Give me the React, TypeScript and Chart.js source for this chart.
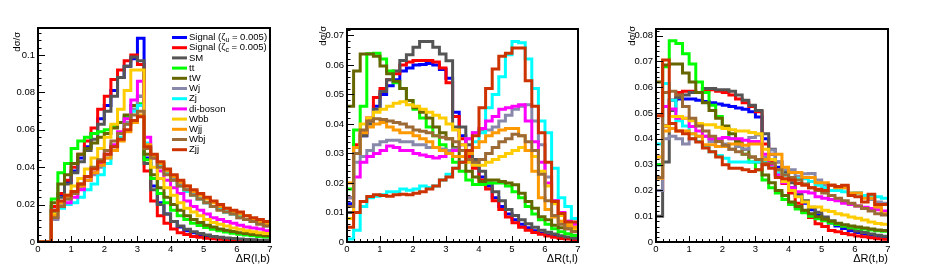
import React, { useEffect, useRef } from "react";
import { Chart, registerables } from "chart.js";

Chart.register(...registerables);

const W = 926;
const H = 273;
const FONT = "'Liberation Sans', Arial, Helvetica, sans-serif";

const BIN_EDGES = [
  0, 0.2, 0.4, 0.6, 0.8, 1.0, 1.2, 1.4, 1.6, 1.8, 2.0, 2.2, 2.4, 2.6, 2.8, 3.0, 3.2, 3.4,
  3.6, 3.8, 4.0, 4.2, 4.4, 4.6, 4.8, 5.0, 5.2, 5.4, 5.6, 5.8, 6.0, 6.2, 6.4, 6.6, 6.8, 7.0,
];
const X_TICKS = [0, 1, 2, 3, 4, 5, 6, 7];
const P1_Y_TICKS = [0, 0.02, 0.04, 0.06, 0.08, 0.1];
const P2_Y_TICKS = [0, 0.01, 0.02, 0.03, 0.04, 0.05, 0.06, 0.07];
const P3_Y_TICKS = [0, 0.01, 0.02, 0.03, 0.04, 0.05, 0.06, 0.07, 0.08];

const SERIES_LABELS = [
  "Signal (ζ_{u} = 0.005)",
  "Signal (ζ_{c} = 0.005)",
  "SM",
  "tt",
  "tW",
  "Wj",
  "Zj",
  "di-boson",
  "Wbb",
  "Wjj",
  "Wbj",
  "Zjj",
];
const SERIES_COLORS = [
  "#0000ff",
  "#ff0000",
  "#555555",
  "#00ff00",
  "#666600",
  "#8888aa",
  "#00ffff",
  "#ff00ff",
  "#ffcc00",
  "#ff9900",
  "#9c6b35",
  "#cc3300",
];

// ---------- Panel 1 : ΔR(l,b) ----------
const P1_SIG_U = [0, 0, 0.017, 0.025, 0.032, 0.038, 0.045, 0.051, 0.058, 0.066, 0.073, 0.081, 0.088, 0.094, 0.098, 0.109, 0.045, 0.030, 0.021, 0.015, 0.011, 0.008, 0.006, 0.005, 0.004, 0.0033, 0.0027, 0.0022, 0.0018, 0.0015, 0.0012, 0.001, 0.0009, 0.0008, 0.0007];
const P1_SIG_C = [0, 0, 0.019, 0.026, 0.033, 0.040, 0.047, 0.054, 0.061, 0.071, 0.078, 0.087, 0.092, 0.097, 0.100, 0.095, 0.038, 0.022, 0.014, 0.010, 0.007, 0.005, 0.004, 0.003, 0.0025, 0.002, 0.0017, 0.0015, 0.0012, 0.001, 0.0009, 0.0008, 0.0007, 0.0006, 0.0005];
const P1_SM = [0, 0, 0.016, 0.024, 0.031, 0.037, 0.043, 0.049, 0.055, 0.063, 0.070, 0.078, 0.088, 0.094, 0.099, 0.097, 0.042, 0.028, 0.020, 0.015, 0.011, 0.0085, 0.0068, 0.0055, 0.0045, 0.0037, 0.003, 0.0026, 0.0022, 0.0019, 0.0016, 0.0014, 0.0012, 0.001, 0.0009];
const P1_TT = [0, 0, 0.023, 0.037, 0.042, 0.050, 0.054, 0.056, 0.058, 0.059, 0.060, 0.062, 0.064, 0.067, 0.071, 0.074, 0.044, 0.034, 0.026, 0.021, 0.017, 0.014, 0.012, 0.010, 0.0088, 0.0077, 0.0068, 0.006, 0.0053, 0.0047, 0.0042, 0.0037, 0.0033, 0.003, 0.0027];
const P1_TW = [0, 0, 0.021, 0.031, 0.036, 0.042, 0.047, 0.050, 0.053, 0.056, 0.058, 0.061, 0.064, 0.068, 0.073, 0.078, 0.047, 0.036, 0.029, 0.024, 0.020, 0.017, 0.014, 0.012, 0.0105, 0.009, 0.008, 0.007, 0.0063, 0.0056, 0.005, 0.0045, 0.004, 0.0037, 0.0034];
const P1_WJ = [0, 0, 0.012, 0.020, 0.023, 0.026, 0.029, 0.033, 0.036, 0.040, 0.045, 0.051, 0.058, 0.064, 0.071, 0.078, 0.051, 0.045, 0.041, 0.037, 0.034, 0.031, 0.028, 0.026, 0.023, 0.021, 0.019, 0.018, 0.016, 0.015, 0.013, 0.012, 0.011, 0.010, 0.0085];
const P1_ZJ = [0, 0, 0.013, 0.018, 0.020, 0.021, 0.024, 0.028, 0.031, 0.036, 0.042, 0.049, 0.056, 0.063, 0.070, 0.073, 0.053, 0.046, 0.041, 0.037, 0.033, 0.030, 0.027, 0.025, 0.023, 0.021, 0.019, 0.018, 0.016, 0.015, 0.014, 0.012, 0.011, 0.010, 0.009];
const P1_DIBOSON = [0, 0, 0.013, 0.019, 0.021, 0.024, 0.028, 0.033, 0.037, 0.042, 0.047, 0.052, 0.059, 0.066, 0.076, 0.086, 0.056, 0.045, 0.038, 0.033, 0.029, 0.026, 0.022, 0.019, 0.017, 0.015, 0.013, 0.012, 0.011, 0.010, 0.009, 0.008, 0.0075, 0.007, 0.006];
const P1_WBB = [0, 0, 0.015, 0.021, 0.025, 0.030, 0.034, 0.039, 0.045, 0.050, 0.056, 0.063, 0.071, 0.081, 0.092, 0.092, 0.050, 0.040, 0.034, 0.029, 0.025, 0.021, 0.018, 0.016, 0.014, 0.012, 0.0105, 0.0095, 0.0085, 0.0075, 0.0068, 0.006, 0.0055, 0.005, 0.0045];
const P1_WJJ = [0, 0, 0.014, 0.021, 0.024, 0.027, 0.030, 0.033, 0.037, 0.041, 0.045, 0.049, 0.054, 0.059, 0.064, 0.068, 0.052, 0.046, 0.042, 0.038, 0.035, 0.032, 0.030, 0.027, 0.025, 0.023, 0.021, 0.019, 0.018, 0.016, 0.015, 0.014, 0.012, 0.011, 0.0095];
const P1_WBJ = [0, 0, 0.013, 0.019, 0.023, 0.026, 0.031, 0.035, 0.040, 0.044, 0.049, 0.054, 0.058, 0.063, 0.068, 0.070, 0.050, 0.045, 0.040, 0.036, 0.033, 0.030, 0.028, 0.025, 0.023, 0.021, 0.019, 0.017, 0.016, 0.015, 0.013, 0.012, 0.011, 0.0095, 0.0085];
const P1_ZJJ = [0, 0, 0.017, 0.022, 0.025, 0.027, 0.031, 0.035, 0.039, 0.043, 0.047, 0.051, 0.055, 0.060, 0.065, 0.067, 0.051, 0.047, 0.043, 0.039, 0.036, 0.033, 0.030, 0.028, 0.026, 0.024, 0.022, 0.020, 0.018, 0.017, 0.016, 0.014, 0.013, 0.012, 0.011];

// ---------- Panel 2 : ΔR(t,l) ----------
const P2_SIG_U = [0.013, 0.030, 0.036, 0.041, 0.046, 0.050, 0.053, 0.055, 0.058, 0.059, 0.060, 0.0602, 0.0605, 0.060, 0.0585, 0.0555, 0.044, 0.036, 0.030, 0.026, 0.022, 0.019, 0.015, 0.012, 0.0095, 0.0075, 0.006, 0.0048, 0.0038, 0.003, 0.0024, 0.0019, 0.0015, 0.0012, 0.001];
const P2_SIG_C = [0.015, 0.033, 0.037, 0.042, 0.049, 0.052, 0.055, 0.057, 0.060, 0.061, 0.0615, 0.0615, 0.0615, 0.061, 0.059, 0.054, 0.0425, 0.035, 0.029, 0.025, 0.021, 0.018, 0.014, 0.011, 0.0085, 0.0065, 0.005, 0.004, 0.0032, 0.0026, 0.002, 0.0016, 0.0012, 0.001, 0.0008];
const P2_SM = [0.010, 0.030, 0.036, 0.040, 0.045, 0.051, 0.055, 0.058, 0.0615, 0.0635, 0.066, 0.068, 0.068, 0.066, 0.0637, 0.0614, 0.039, 0.039, 0.033, 0.028, 0.024, 0.020, 0.017, 0.014, 0.011, 0.009, 0.0075, 0.0062, 0.005, 0.004, 0.0033, 0.0027, 0.0021, 0.0017, 0.0013];
const P2_TT = [0.018, 0.038, 0.046, 0.0638, 0.064, 0.062, 0.058, 0.054, 0.052, 0.048, 0.045, 0.042, 0.039, 0.036, 0.033, 0.030, 0.027, 0.024, 0.021, 0.0195, 0.0195, 0.020, 0.020, 0.020, 0.019, 0.017, 0.015, 0.012, 0.0095, 0.0075, 0.006, 0.0045, 0.0035, 0.0028, 0.0022];
const P2_TW = [0.046, 0.058, 0.0637, 0.0637, 0.063, 0.0597, 0.057, 0.0545, 0.052, 0.048, 0.0455, 0.044, 0.042, 0.039, 0.037, 0.035, 0.032, 0.027, 0.024, 0.022, 0.0205, 0.021, 0.021, 0.0205, 0.020, 0.0194, 0.0165, 0.0137, 0.0114, 0.0086, 0.0075, 0.0057, 0.0048, 0.0045, 0.004];
const P2_WJ = [0.015, 0.027, 0.029, 0.031, 0.033, 0.034, 0.0345, 0.0345, 0.034, 0.034, 0.033, 0.033, 0.032, 0.032, 0.0315, 0.031, 0.0315, 0.033, 0.035, 0.037, 0.038, 0.038, 0.039, 0.041, 0.043, 0.045, 0.046, 0.0465, 0.041, 0.033, 0.022, 0.014, 0.010, 0.007, 0.005];
const P2_ZJ = [0.001, 0.004, 0.012, 0.015, 0.0155, 0.016, 0.017, 0.017, 0.018, 0.0175, 0.018, 0.019, 0.0185, 0.019, 0.021, 0.023, 0.025, 0.027, 0.030, 0.034, 0.037, 0.0455, 0.050, 0.056, 0.0635, 0.068, 0.0675, 0.062, 0.052, 0.041, 0.037, 0.025, 0.015, 0.012, 0.008];
const P2_DIBOSON = [0.008, 0.022, 0.027, 0.029, 0.030, 0.031, 0.0325, 0.032, 0.031, 0.031, 0.030, 0.0295, 0.029, 0.0285, 0.029, 0.030, 0.031, 0.033, 0.035, 0.037, 0.0385, 0.041, 0.0425, 0.045, 0.0455, 0.046, 0.0465, 0.041, 0.034, 0.027, 0.020, 0.014, 0.010, 0.007, 0.006];
const P2_WBB = [0.008, 0.030, 0.040, 0.042, 0.044, 0.045, 0.046, 0.047, 0.0475, 0.0465, 0.046, 0.045, 0.044, 0.043, 0.042, 0.040, 0.038, 0.033, 0.027, 0.026, 0.026, 0.027, 0.028, 0.029, 0.030, 0.031, 0.032, 0.031, 0.029, 0.024, 0.019, 0.013, 0.009, 0.006, 0.0045];
const P2_WJJ = [0.020, 0.032, 0.037, 0.039, 0.040, 0.0405, 0.039, 0.038, 0.037, 0.037, 0.036, 0.035, 0.034, 0.032, 0.031, 0.030, 0.029, 0.029, 0.030, 0.032, 0.034, 0.036, 0.037, 0.038, 0.0385, 0.0385, 0.036, 0.031, 0.024, 0.015, 0.011, 0.0085, 0.007, 0.0055, 0.005];
const P2_WBJ = [0.012, 0.030, 0.038, 0.041, 0.0418, 0.0415, 0.041, 0.0405, 0.040, 0.039, 0.038, 0.0375, 0.037, 0.036, 0.0355, 0.035, 0.034, 0.031, 0.028, 0.027, 0.028, 0.030, 0.032, 0.034, 0.035, 0.0365, 0.036, 0.034, 0.031, 0.023, 0.014, 0.009, 0.006, 0.0045, 0.0035];
const P2_ZJJ = [0.005, 0.010, 0.0137, 0.0154, 0.016, 0.0158, 0.0155, 0.016, 0.0162, 0.016, 0.0165, 0.017, 0.018, 0.019, 0.021, 0.022, 0.025, 0.027, 0.031, 0.036, 0.0455, 0.052, 0.0586, 0.063, 0.064, 0.0658, 0.0658, 0.0547, 0.046, 0.037, 0.027, 0.0137, 0.0097, 0.0068, 0.0068];

// ---------- Panel 3 : ΔR(t,b) ----------
const P3_SIG_U = [0.030, 0.045, 0.055, 0.0555, 0.0555, 0.0555, 0.055, 0.0545, 0.054, 0.0535, 0.053, 0.0525, 0.052, 0.0515, 0.0505, 0.0485, 0.040, 0.034, 0.029, 0.024, 0.021, 0.018, 0.015, 0.0125, 0.0105, 0.0088, 0.0074, 0.0062, 0.0052, 0.0044, 0.0037, 0.0031, 0.0026, 0.0022, 0.0018];
const P3_SIG_C = [0.020, 0.045, 0.055, 0.058, 0.0585, 0.0585, 0.058, 0.0585, 0.059, 0.0585, 0.058, 0.057, 0.0555, 0.054, 0.0525, 0.0505, 0.038, 0.031, 0.026, 0.0227, 0.019, 0.015, 0.0117, 0.0095, 0.0071, 0.006, 0.0045, 0.004, 0.0033, 0.0028, 0.0023, 0.002, 0.0016, 0.0013, 0.0011];
const P3_SM = [0.010, 0.031, 0.051, 0.056, 0.057, 0.058, 0.058, 0.0595, 0.0595, 0.059, 0.059, 0.0585, 0.057, 0.055, 0.053, 0.051, 0.042, 0.036, 0.031, 0.027, 0.023, 0.019, 0.016, 0.0135, 0.0115, 0.0097, 0.0082, 0.007, 0.006, 0.0051, 0.0043, 0.0037, 0.0031, 0.0026, 0.0022];
const P3_TT = [0.030, 0.068, 0.078, 0.077, 0.073, 0.069, 0.062, 0.058, 0.053, 0.0487, 0.044, 0.040, 0.037, 0.034, 0.031, 0.028, 0.024, 0.021, 0.019, 0.0165, 0.0145, 0.0128, 0.0113, 0.010, 0.009, 0.0082, 0.0074, 0.0068, 0.0062, 0.0057, 0.0053, 0.005, 0.0047, 0.0044, 0.0042];
const P3_TW = [0.062, 0.0686, 0.069, 0.069, 0.0655, 0.062, 0.058, 0.054, 0.051, 0.048, 0.045, 0.042, 0.039, 0.036, 0.033, 0.031, 0.026, 0.023, 0.020, 0.018, 0.0155, 0.0138, 0.0123, 0.011, 0.0098, 0.0088, 0.008, 0.0073, 0.0067, 0.0062, 0.0058, 0.0054, 0.005, 0.0047, 0.0045];
const P3_WJ = [0.020, 0.040, 0.041, 0.040, 0.038, 0.040, 0.041, 0.041, 0.039, 0.037, 0.038, 0.036, 0.037, 0.036, 0.0405, 0.0415, 0.033, 0.0357, 0.031, 0.028, 0.028, 0.0255, 0.0265, 0.0266, 0.024, 0.022, 0.022, 0.0205, 0.021, 0.0185, 0.019, 0.0175, 0.0165, 0.0155, 0.015];
const P3_ZJ = [0.038, 0.0615, 0.055, 0.047, 0.045, 0.042, 0.039, 0.037, 0.035, 0.0335, 0.0325, 0.031, 0.031, 0.031, 0.031, 0.031, 0.031, 0.029, 0.027, 0.026, 0.025, 0.0245, 0.0245, 0.0235, 0.022, 0.021, 0.020, 0.020, 0.0195, 0.019, 0.019, 0.018, 0.018, 0.0175, 0.017];
const P3_DIBOSON = [0.033, 0.0525, 0.0516, 0.048, 0.048, 0.0448, 0.043, 0.041, 0.040, 0.040, 0.0405, 0.040, 0.040, 0.0395, 0.039, 0.039, 0.034, 0.030, 0.026, 0.023, 0.021, 0.0195, 0.0195, 0.019, 0.0175, 0.017, 0.0165, 0.016, 0.015, 0.0145, 0.014, 0.0135, 0.013, 0.0125, 0.012];
const P3_WBB = [0.033, 0.045, 0.0487, 0.0487, 0.048, 0.047, 0.046, 0.0455, 0.0455, 0.0445, 0.044, 0.0435, 0.043, 0.043, 0.0425, 0.042, 0.036, 0.032, 0.028, 0.0235, 0.020, 0.0175, 0.0155, 0.0136, 0.0136, 0.0123, 0.0118, 0.011, 0.0105, 0.0097, 0.0092, 0.0085, 0.0078, 0.0072, 0.0069];
const P3_WJJ = [0.0247, 0.043, 0.044, 0.043, 0.043, 0.042, 0.041, 0.0377, 0.0377, 0.037, 0.037, 0.038, 0.038, 0.0375, 0.038, 0.038, 0.032, 0.034, 0.034, 0.029, 0.027, 0.027, 0.025, 0.025, 0.023, 0.023, 0.022, 0.021, 0.021, 0.019, 0.019, 0.017, 0.017, 0.0136, 0.011];
const P3_WBJ = [0.025, 0.058, 0.0585, 0.057, 0.0525, 0.048, 0.045, 0.043, 0.041, 0.039, 0.0375, 0.036, 0.035, 0.034, 0.033, 0.032, 0.0305, 0.0305, 0.028, 0.026, 0.025, 0.024, 0.0225, 0.021, 0.020, 0.019, 0.018, 0.017, 0.016, 0.015, 0.014, 0.013, 0.012, 0.011, 0.0105];
const P3_ZJJ = [0.049, 0.0706, 0.046, 0.043, 0.042, 0.040, 0.0388, 0.0365, 0.035, 0.033, 0.030, 0.0286, 0.0286, 0.028, 0.0273, 0.028, 0.030, 0.0286, 0.025, 0.0245, 0.024, 0.0227, 0.022, 0.021, 0.0205, 0.020, 0.022, 0.0215, 0.022, 0.018, 0.0175, 0.0155, 0.0185, 0.0145, 0.0145];

const PANELS = [
  {
    left: 38, right: 270, top: 28, bottom: 242, yMax: 0.1145, yTicks: P1_Y_TICKS, yMinor: 0.004,
    xTitle: "ΔR(l,b)", legend: true, yTitleDx: 21, yTitleDy: 4,
    series: [P1_SIG_U, P1_SIG_C, P1_SM, P1_TT, P1_TW, P1_WJ, P1_ZJ, P1_DIBOSON, P1_WBB, P1_WJJ, P1_WBJ, P1_ZJJ],
  },
  {
    left: 347, right: 578, top: 29, bottom: 242, yMax: 0.0722, yTicks: P2_Y_TICKS, yMinor: 0.002,
    xTitle: "ΔR(t,l)", legend: false, yTitleDx: 24, yTitleDy: -3,
    series: [P2_SIG_U, P2_SIG_C, P2_SM, P2_TT, P2_TW, P2_WJ, P2_ZJ, P2_DIBOSON, P2_WBB, P2_WJJ, P2_WBJ, P2_ZJJ],
  },
  {
    left: 656, right: 888, top: 29, bottom: 242, yMax: 0.0826, yTicks: P3_Y_TICKS, yMinor: 0.002,
    xTitle: "ΔR(t,b)", legend: false, yTitleDx: 24, yTitleDy: -3,
    series: [P3_SIG_U, P3_SIG_C, P3_SM, P3_TT, P3_TW, P3_WJ, P3_ZJ, P3_DIBOSON, P3_WBB, P3_WJJ, P3_WBJ, P3_ZJJ],
  },
];

const Y_AXIS_W = 38;

function drawRich(ctx: CanvasRenderingContext2D, text: string, x: number, y: number, size: number) {
  const parts = text.split(/(_\{[^}]*\})/);
  let cx = x;
  for (const p of parts) {
    if (!p) continue;
    const m = p.match(/^_\{([^}]*)\}$/);
    if (m) {
      ctx.font = `${Math.round(size * 0.7)}px ${FONT}`;
      ctx.fillText(m[1], cx, y + size * 0.3);
      cx += ctx.measureText(m[1]).width;
    } else {
      ctx.font = `${size}px ${FONT}`;
      ctx.fillText(p, cx, y);
      cx += ctx.measureText(p).width;
    }
  }
}

const rootStylePlugin = {
  id: "rootStyle",
  afterDatasetsDraw(chart: any, _args: any, opts: any) {
    const { ctx, chartArea } = chart;
    const { left, right, top, bottom } = chartArea;
    const xs = chart.scales.x;
    const ys = chart.scales.y;
    ctx.save();
    ctx.strokeStyle = "#000";
    ctx.lineWidth = 1;
    ctx.beginPath();
    for (let i = 0; i <= 35; i++) {
      const px = Math.round(xs.getPixelForValue(i * 0.2)) + 0.5;
      const len = i % 5 === 0 ? 6 : 3;
      ctx.moveTo(px, bottom);
      ctx.lineTo(px, bottom - len);
    }
    const nMinor = Math.floor(ys.max / opts.yMinor + 1e-6);
    for (let j = 0; j <= nMinor; j++) {
      const py = Math.round(ys.getPixelForValue(j * opts.yMinor)) + 0.5;
      const len = j % 5 === 0 ? 7 : 3.5;
      ctx.moveTo(left, py);
      ctx.lineTo(left + len, py);
    }
    ctx.stroke();
    ctx.lineWidth = 2;
    ctx.strokeRect(left, top, right - left, bottom - top);

    // axis titles
    ctx.fillStyle = "#000";
    ctx.font = `11px ${FONT}`;
    ctx.textAlign = "right";
    ctx.textBaseline = "middle";
    ctx.fillText(opts.xTitle, right, 259);
    ctx.save();
    ctx.translate(left - opts.yTitleDx, top + opts.yTitleDy);
    ctx.rotate(-Math.PI / 2);
    ctx.textAlign = "right";
    ctx.font = `9.5px ${FONT}`;
    ctx.fillText("dσ/σ", 0, 0);
    ctx.restore();

    if (opts.legend) {
      const ds = chart.data.datasets;
      ctx.textAlign = "left";
      ctx.textBaseline = "middle";
      for (let i = 0; i < ds.length; i++) {
        const y = 37.5 + i * 10.2;
        ctx.strokeStyle = ds[i].borderColor;
        ctx.lineWidth = 3;
        ctx.beginPath();
        ctx.moveTo(172, y);
        ctx.lineTo(187, y);
        ctx.stroke();
        ctx.fillStyle = "#000";
        drawRich(ctx, ds[i].label, 189, y, 9.5);
      }
    }
    ctx.restore();
  },
};

function Panel({ cfg }: { cfg: any }) {
  const ref = useRef<HTMLCanvasElement | null>(null);
  useEffect(() => {
    const canvas = ref.current;
    if (!canvas) return;
    const n = SERIES_LABELS.length;
    const datasets = cfg.series.map((vals: number[], i: number) => ({
      label: SERIES_LABELS[i],
      data: BIN_EDGES.map((e, k) => ({ x: e, y: vals[Math.min(k, vals.length - 1)] })),
      borderColor: SERIES_COLORS[i],
      backgroundColor: SERIES_COLORS[i],
      borderWidth: 3,
      stepped: "before",
      pointRadius: 0,
      fill: false,
      tension: 0,
      order: n - i,
      borderJoinStyle: "miter",
    }));
    const chart = new Chart(canvas, {
      type: "line",
      data: { datasets },
      plugins: [rootStylePlugin],
      options: {
        animation: false,
        responsive: false,
        devicePixelRatio: 1,
        events: [],
        layout: {
          padding: { left: cfg.left - Y_AXIS_W, right: W - cfg.right, top: cfg.top, bottom: 0 },
        },
        plugins: {
          legend: { display: false },
          title: { display: false },
          tooltip: { enabled: false },
          rootStyle: {
            xTitle: cfg.xTitle,
            yMinor: cfg.yMinor,
            legend: cfg.legend,
            yTitleDx: cfg.yTitleDx,
            yTitleDy: cfg.yTitleDy,
          },
        } as any,
        scales: {
          x: {
            type: "linear",
            min: 0,
            max: 7,
            grid: { display: false, drawTicks: false },
            border: { display: false },
            ticks: {
              padding: 2,
              color: "#000",
              font: { family: FONT, size: 9.5 },
              maxRotation: 0,
              callback: (v: any) => String(v),
            },
            afterBuildTicks: (s: any) => {
              s.ticks = X_TICKS.map((v) => ({ value: v }));
            },
            afterFit: (s: any) => {
              s.height = H - cfg.bottom;
            },
          },
          y: {
            type: "linear",
            min: 0,
            max: cfg.yMax,
            grid: { display: false, drawTicks: false },
            border: { display: false },
            ticks: {
              padding: 3,
              color: "#000",
              font: { family: FONT, size: 9.5 },
              callback: (v: any) => String(+Number(v).toFixed(3)),
            },
            afterBuildTicks: (s: any) => {
              s.ticks = cfg.yTicks.map((v: number) => ({ value: v }));
            },
            afterFit: (s: any) => {
              s.width = Y_AXIS_W;
            },
          },
        },
      } as any,
    });
    return () => chart.destroy();
  }, [cfg]);
  return (
    <canvas
      ref={ref}
      width={W}
      height={H}
      style={{ position: "absolute", left: 0, top: 0, width: W, height: H }}
    />
  );
}

export default function App() {
  return (
    <div style={{ position: "absolute", left: 0, top: 0, width: W, height: H, background: "#fff" }}>
      {PANELS.map((p, i) => (
        <Panel key={i} cfg={p} />
      ))}
    </div>
  );
}
